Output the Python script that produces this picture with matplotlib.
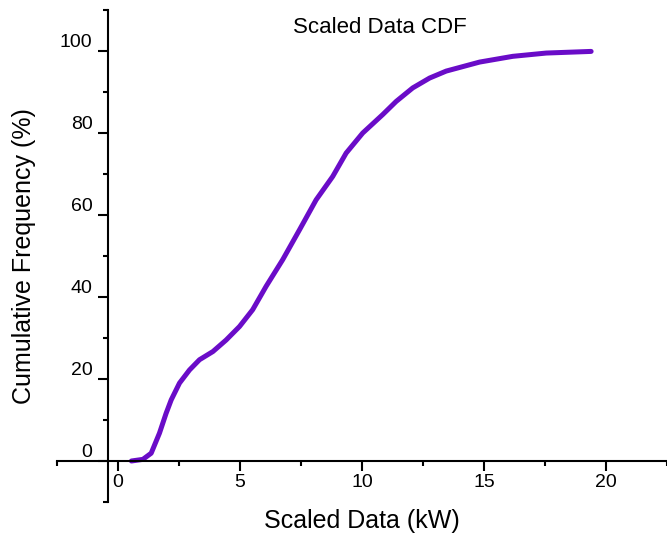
import matplotlib
matplotlib.use('Agg')
import matplotlib.pyplot as plt
from matplotlib.ticker import MultipleLocator

plt.rcParams['font.family'] = ['Liberation Sans', 'DejaVu Sans']

# values
scaled_kw = [0.55, 1.02, 1.36, 1.70, 1.97, 2.18, 2.52, 2.93, 3.34, 3.89, 4.43,
             4.98, 5.52, 6.07, 6.75, 7.44, 8.12, 8.80, 9.35, 10.03, 10.85,
             11.40, 12.08, 12.77, 13.45, 14.82, 16.18, 17.55, 19.39]
cum_freq = [0, 0.4, 1.9, 6.8, 11.6, 14.9, 19.0, 22.2, 24.7, 26.7, 29.5,
            32.8, 36.9, 42.6, 49.1, 56.4, 63.7, 69.4, 75.1, 80.0, 84.5,
            87.7, 91.0, 93.4, 95.1, 97.3, 98.7, 99.5, 99.9]

x_ticks = [0, 5, 10, 15, 20]
y_ticks = [0, 20, 40, 60, 80, 100]

fig = plt.figure(figsize=(6.67, 5.41), dpi=100)
ax = fig.add_axes([57 / 667, 39 / 541, 610 / 667, 492 / 541])

ax.plot(scaled_kw, cum_freq, color='#6a0cc8', lw=3.6, solid_capstyle='round',
        solid_joinstyle='round')

ax.set_xlim(-2.5, 22.5)
ax.set_ylim(-10, 110)

ax.spines['top'].set_visible(False)
ax.spines['right'].set_visible(False)
ax.spines['left'].set_position(('data', -0.4))
ax.spines['bottom'].set_position(('data', 0))
for s in ('left', 'bottom'):
    ax.spines[s].set_linewidth(1.5)

ax.set_xticks(x_ticks)
ax.set_yticks(y_ticks)
ax.xaxis.set_minor_locator(MultipleLocator(2.5))
ax.set_xticks([-2.5, 2.5, 7.5, 12.5, 17.5, 22.5], minor=True)
ax.set_yticks([-10, 10, 30, 50, 70, 90, 110], minor=True)
ax.tick_params(which='major', direction='out', length=7, width=1.5,
               labelsize=14)
ax.tick_params(which='minor', direction='out', length=3.5, width=1.5)
ax.tick_params(axis='x', which='major', pad=2.5)
ax.tick_params(axis='y', which='major', pad=4.3)
for lab in ax.get_yticklabels():
    lab.set_va('bottom')

ax.set_xlabel('Scaled Data (kW)', fontsize=18)
ax.xaxis.set_label_coords(0.5, -0.015)
ax.set_ylabel('Cumulative Frequency (%)', fontsize=18)
ax.yaxis.set_label_coords(-0.035, 0.5)

ax.text(0.53, 0.953, 'Scaled Data CDF', transform=ax.transAxes,
        ha='center', va='baseline', fontsize=16)

fig.savefig('out.png', dpi=100)
